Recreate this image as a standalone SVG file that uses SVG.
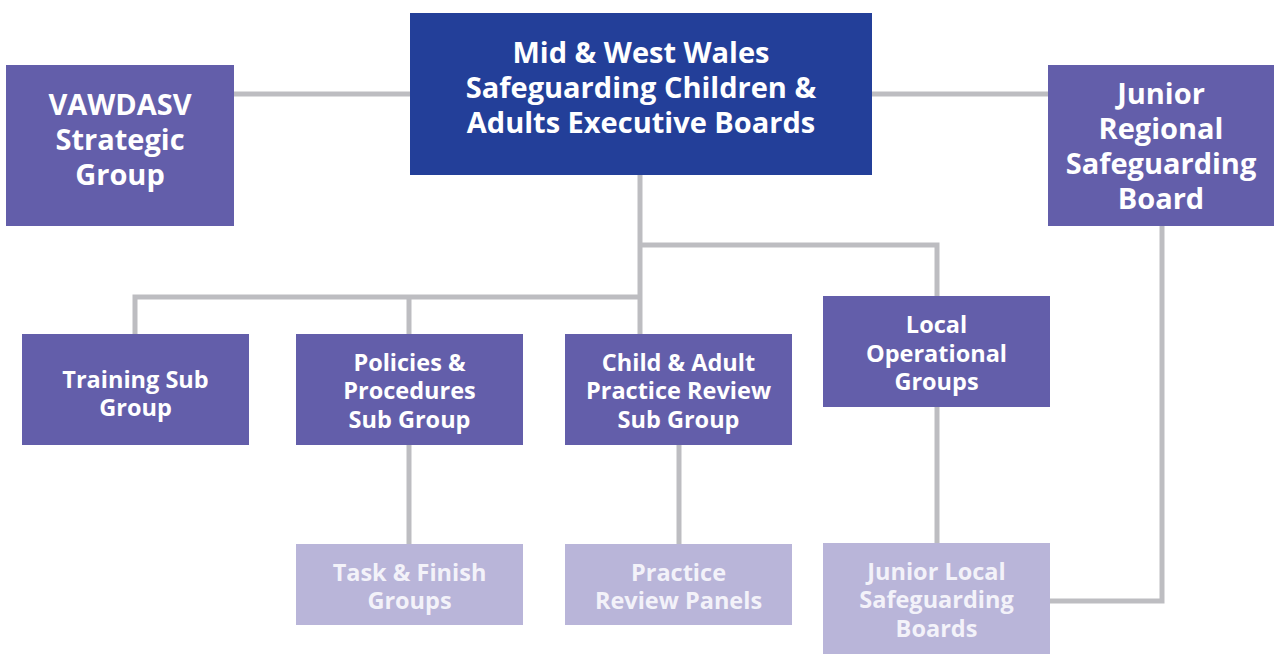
<svg xmlns="http://www.w3.org/2000/svg" width="1274" height="655" viewBox="0 0 1274 655">
<style>
.c{fill:none;stroke:#BDBDC1;stroke-width:5}
.dk{fill:#233F99}
.md{fill:#635EAA}
.lt{fill:#B9B5D9}
text{font-family:"Open Sans","Liberation Sans",sans-serif;font-weight:bold;text-anchor:middle;fill:#FFFFFF}
.big{font-size:29px}
.sm{font-size:23.5px}
.pale{fill:#F3F2F9}
</style>
<rect width="1274" height="655" fill="#FFFFFF"/>
<g id="connectors">
<path class="c" d="M234 94H410"/>
<path class="c" d="M872 94H1048"/>
<path class="c" d="M640 175V334"/>
<path class="c" d="M640 245H937V296"/>
<path class="c" d="M135 334V297H640"/>
<path class="c" d="M409 297V334"/>
<path class="c" d="M409 445V544"/>
<path class="c" d="M679 445V544"/>
<path class="c" d="M937 407V543"/>
<path class="c" d="M1162 226V601H1050"/>
</g>
<g id="main">
<rect class="dk" x="410" y="13" width="462" height="162"/>
<text class="big" x="641" y="63">Mid &amp; West Wales</text>
<text class="big" x="641" y="98">Safeguarding Children &amp;</text>
<text class="big" x="641" y="133">Adults Executive Boards</text>
</g>
<g id="vawdasv">
<rect class="md" x="6" y="65" width="228" height="161"/>
<text class="big" x="120" y="115">VAWDASV</text>
<text class="big" x="120" y="150">Strategic</text>
<text class="big" x="120" y="185">Group</text>
</g>
<g id="junior-regional">
<rect class="md" x="1048" y="65" width="226" height="161"/>
<text class="big" x="1161" y="104">Junior</text>
<text class="big" x="1161" y="139">Regional</text>
<text class="big" x="1161" y="174">Safeguarding</text>
<text class="big" x="1161" y="209">Board</text>
</g>
<g id="training">
<rect class="md" x="22" y="334" width="227" height="111"/>
<text class="sm" x="135.5" y="388">Training Sub</text>
<text class="sm" x="135.5" y="416">Group</text>
</g>
<g id="policies">
<rect class="md" x="296" y="334" width="227" height="111"/>
<text class="sm" x="409.5" y="371">Policies &amp;</text>
<text class="sm" x="409.5" y="399">Procedures</text>
<text class="sm" x="409.5" y="428">Sub Group</text>
</g>
<g id="practice-review">
<rect class="md" x="565" y="334" width="227" height="111"/>
<text class="sm" x="678.5" y="371">Child &amp; Adult</text>
<text class="sm" x="678.5" y="399">Practice Review</text>
<text class="sm" x="678.5" y="428">Sub Group</text>
</g>
<g id="local-operational">
<rect class="md" x="823" y="296" width="227" height="111"/>
<text class="sm" x="936.5" y="333">Local</text>
<text class="sm" x="936.5" y="362">Operational</text>
<text class="sm" x="936.5" y="390">Groups</text>
</g>
<g id="task-finish">
<rect class="lt" x="296" y="544" width="227" height="81"/>
<text class="sm pale" x="409.5" y="581">Task &amp; Finish</text>
<text class="sm pale" x="409.5" y="609">Groups</text>
</g>
<g id="practice-panels">
<rect class="lt" x="565" y="544" width="227" height="81"/>
<text class="sm pale" x="678.5" y="581">Practice</text>
<text class="sm pale" x="678.5" y="609">Review Panels</text>
</g>
<g id="junior-local">
<rect class="lt" x="823" y="543" width="227" height="111"/>
<text class="sm pale" x="936.5" y="580">Junior Local</text>
<text class="sm pale" x="936.5" y="608">Safeguarding</text>
<text class="sm pale" x="936.5" y="637">Boards</text>
</g>
</svg>
